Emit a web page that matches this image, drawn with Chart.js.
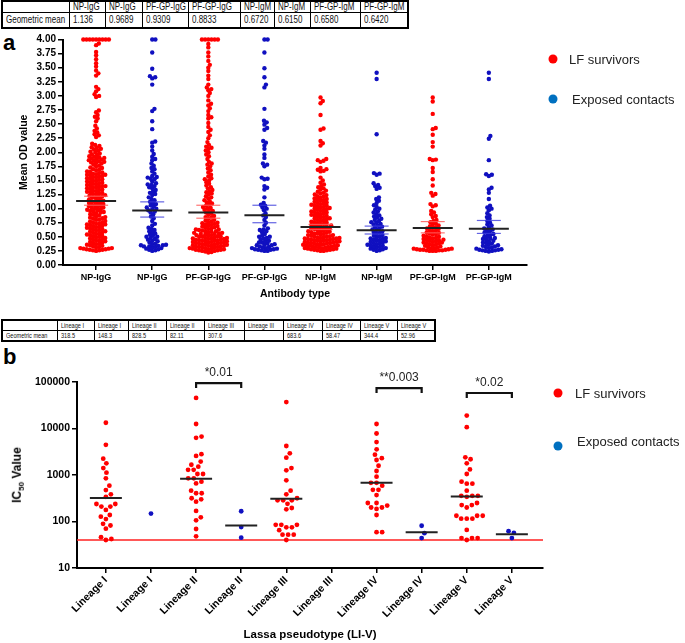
<!DOCTYPE html>
<html><head><meta charset="utf-8">
<script src="https://cdn.jsdelivr.net/npm/chart.js@4/dist/chart.umd.min.js"></script>
<style>
body{margin:0;width:685px;height:643px;position:relative;background:#fff;font-family:"Liberation Sans",Arial,sans-serif;overflow:hidden;color:#111}
.abs{position:absolute}
table.gm{border-collapse:collapse;position:absolute;border:2px solid #000;table-layout:fixed}
table.gm td{border:1px solid #000;padding:0 0 0 3px;white-space:nowrap;overflow:hidden;line-height:1}
table.gm td span{display:inline-block;transform:scaleX(0.8);transform-origin:0 50%}
.dot{position:absolute;border-radius:50%;width:9px;height:9px;transform:translate(-50%,-50%)}
.leg{position:absolute;transform:translateY(-50%);font-size:13px;color:#222;white-space:nowrap}
.letter{position:absolute;font-weight:bold;font-size:22px;color:#000}
canvas{position:absolute}
</style></head><body>
<table class="gm" id="tA" style="left:1px;top:0px;font-size:10px"></table>
<table class="gm" id="tB" style="left:1px;top:319px;font-size:7px"></table>
<div class="letter" style="left:3px;top:30px">a</div>
<div class="letter" style="left:3px;top:344px">b</div>
<div style="position:absolute;left:0;top:28px;width:685px;height:275px"><canvas id="cA"></canvas></div>
<div style="position:absolute;left:0;top:343px;width:685px;height:300px"><canvas id="cB"></canvas></div>
<div class="abs" style="left:18px;top:475px;transform:translate(-50%,-50%) rotate(-90deg);font-weight:bold;font-size:12px;white-space:nowrap;color:#000">IC<sub style="font-size:8px">50</sub> Value</div>
<div class="dot" style="left:553px;top:59px;background:#ff0000"></div>
<div class="leg" style="left:569px;top:59px">LF survivors</div>
<div class="dot" style="left:553px;top:99px;background:#0070c0"></div>
<div class="leg" style="left:572px;top:99px">Exposed contacts</div>
<div class="dot" style="left:558px;top:393px;background:#ff0000"></div>
<div class="leg" style="left:575px;top:393px">LF survivors</div>
<div class="dot" style="left:558px;top:446px;background:#0070c0"></div>
<div class="leg" style="left:577px;top:441px">Exposed contacts</div>
<script>
// ---------------- Panel a data ----------------
const catsA = ['NP-IgG','NP-IgG','PF-GP-IgG','PF-GP-IgG','NP-IgM','NP-IgM','PF-GP-IgM','PF-GP-IgM'];
const geoMeanA = [1.136, 0.9689, 0.9309, 0.8833, 0.6720, 0.6150, 0.6580, 0.6420];
const ciLowA  = [1.06, 0.85, 0.83, 0.75, 0.63, 0.55, 0.57, 0.56];
const ciHighA = [1.22, 1.12, 1.06, 1.06, 0.72, 0.69, 0.77, 0.79];
const ticksA = [0,0.25,0.5,0.75,1,1.25,1.5,1.75,2,2.25,2.5,2.75,3,3.25,3.5,3.75,4];
const npIgG_surv = [4,4,4,4,4,4,4,4,4,
3.93,3.90,3.78,3.72,3.65,3.58,3.52,3.45,3.40,3.36,
3.16,3.12,3.08,3.03,3.00,2.98,
2.74,2.71,2.66,2.63,2.60,2.55,
2.47,2.42,2.38,2.35,2.32,2.30,2.27,
2.15,2.13,2.11,2.09,2.08,2.06,2.05,2.03,2.01,2.00,
1.98,1.96,1.95,1.93,1.92,1.91,1.90,1.89,1.88,1.87,1.86,1.85,1.84,1.83,1.82,1.81,1.80,
1.78,1.76,1.75,1.73,1.72,1.70,1.69,1.68,1.66,1.65,1.64,1.63,1.62,1.61,1.60,1.60,1.59,
1.58,1.57,1.56,1.55,1.54,1.53,1.52,1.51,1.50,1.49,1.48,1.47,1.46,1.45,1.44,1.43,1.42,1.41,1.40,1.40,
1.39,1.38,1.37,1.36,1.35,1.34,1.33,1.32,1.31,1.30,1.29,1.28,1.27,1.26,1.25,1.24,1.23,1.22,1.21,1.20,
1.19,1.17,1.16,1.15,1.14,1.13,1.12,1.11,1.10,1.09,1.08,1.07,1.06,1.05,1.04,1.03,1.02,1.01,1.00,
0.99,0.98,0.97,0.96,0.95,0.94,0.93,0.92,0.90,0.89,0.88,0.86,0.85,0.84,0.83,0.82,0.81,0.80,
0.78,0.77,0.76,0.75,0.74,0.73,0.72,0.72,0.71,0.70,0.69,0.68,0.67,0.66,0.65,0.64,0.63,0.62,0.61,0.60,
0.59,0.58,0.57,0.56,0.55,0.54,0.53,0.52,0.51,0.50,0.49,0.48,0.47,0.46,0.45,0.44,0.43,0.42,0.41,0.40,
0.39,0.38,0.37,0.36,0.35,0.34,0.33,0.32,0.31,0.30,0.30,0.29,0.29,0.28,0.28,0.27,0.27,0.26,0.26,0.25];
const npIgG_cont = [4.00,4.00,3.77,3.48,3.35,3.33,3.31,3.20,2.77,2.73,2.55,2.41,2.19,2.17,2.10,2.03,1.97,1.92,1.88,1.86,
1.80,1.76,1.72,1.70,1.66,1.62,1.58,1.56,1.55,1.53,1.52,1.48,1.45,1.43,1.42,1.40,1.38,1.36,1.33,1.30,1.28,1.26,1.24,1.20,
1.17,1.15,1.12,1.10,1.08,1.06,1.04,1.02,1.00,0.99,0.97,0.95,0.93,0.90,0.86,0.83,0.78,0.73,0.70,0.66,0.64,0.62,0.60,0.58,
0.56,0.54,0.52,0.50,0.50,0.48,0.46,0.45,0.43,0.42,0.40,0.38,0.37,0.36,0.35,0.35,0.34,0.33,0.33,0.32,0.31,0.30,0.29,0.28,0.27,0.26,0.25];
const pfIgG_surv = [4,4,4,4,4,4,3.92,3.86,3.77,3.70,3.62,3.55,3.50,3.44,3.36,3.30,3.20,3.15,3.12,3.10,3.05,3.00,2.92,2.86,2.83,2.78,2.73,
2.66,2.62,2.60,2.52,2.45,2.40,2.36,2.30,2.25,2.18,2.13,2.10,2.08,2.06,2.03,2.00,1.96,1.93,1.88,1.83,1.80,1.78,1.75,1.71,1.68,1.64,
1.60,1.57,1.54,1.52,1.50,1.47,1.44,1.41,1.38,1.36,1.33,1.31,1.29,1.27,1.25,1.22,1.20,1.18,1.15,1.13,1.11,1.09,1.07,1.05,1.03,1.01,
1.00,0.98,0.96,0.95,0.93,0.91,0.89,0.87,0.85,0.84,0.82,0.80,0.79,0.77,0.76,0.75,0.74,0.73,0.72,0.71,0.70,0.69,0.68,0.67,0.66,0.65,
0.64,0.63,0.63,0.62,0.61,0.60,0.60,0.59,0.58,0.57,0.57,0.56,0.55,0.55,0.54,0.53,0.53,0.52,0.51,0.51,0.50,0.50,0.49,0.48,0.48,0.47,
0.47,0.46,0.46,0.45,0.45,0.44,0.44,0.43,0.43,0.42,0.42,0.41,0.41,0.40,0.40,0.39,0.39,0.38,0.38,0.37,0.37,0.36,0.36,0.35,0.35,0.34,
0.34,0.33,0.33,0.32,0.32,0.31,0.31,0.30,0.30,0.29,0.29,0.28,0.28,0.27,0.27,0.26,0.26,0.25,0.25,0.24,0.23,0.22];
const pfIgG_cont = [4.00,4.00,3.77,3.49,3.33,3.20,3.15,2.77,2.56,2.53,2.49,2.43,2.40,2.20,2.17,2.12,2.06,1.96,1.90,1.80,1.78,1.75,
1.55,1.53,1.52,1.40,1.37,1.34,1.20,1.10,1.07,1.05,1.02,1.00,0.97,0.92,0.88,0.85,0.80,0.75,0.70,0.65,0.63,0.62,0.60,0.58,0.55,0.52,
0.50,0.50,0.48,0.47,0.45,0.43,0.42,0.40,0.40,0.38,0.37,0.36,0.35,0.35,0.33,0.32,0.31,0.30,0.30,0.29,0.28,0.28,0.27,0.27,0.26,0.25,0.25];
const npIgM_surv = [2.97,2.91,2.87,2.66,2.42,2.40,2.20,2.16,2.12,1.88,1.86,1.85,1.83,1.72,1.70,1.69,1.67,1.66,1.55,1.50,1.46,1.43,1.40,
1.38,1.36,1.34,1.32,1.30,1.28,1.27,1.25,1.24,1.22,1.21,1.20,1.18,1.17,1.16,1.15,1.14,1.12,1.11,1.10,1.09,1.08,1.07,1.06,1.05,1.04,
1.03,1.02,1.01,1.00,0.99,0.98,0.97,0.96,0.95,0.94,0.93,0.92,0.91,0.90,0.89,0.88,0.87,0.86,0.85,0.84,0.83,0.82,
0.81,0.80,0.79,0.78,0.77,0.76,0.75,0.74,0.73,0.72,0.71,0.70,0.70,0.69,0.68,0.67,0.66,0.65,0.65,
0.64,0.63,0.62,0.61,0.60,0.60,0.59,0.58,0.57,0.56,0.56,0.55,0.54,0.53,0.53,0.52,0.51,
0.50,0.50,0.49,0.49,0.48,0.48,0.47,0.47,0.46,0.46,0.45,0.45,0.44,0.44,0.43,0.43,
0.42,0.42,0.41,0.41,0.40,0.40,0.39,0.39,0.38,0.38,0.37,0.37,0.36,0.36,0.35,0.35,
0.34,0.34,0.33,0.33,0.32,0.32,0.31,0.31,0.30,0.30,0.29,0.29,0.28,0.28,0.27,0.27,0.26,0.26,0.25,0.25];
const npIgM_cont = [3.41,3.30,2.32,1.63,1.62,1.60,1.45,1.42,1.40,1.37,1.35,1.20,1.17,1.14,1.10,1.06,1.03,1.00,0.98,0.95,0.93,0.90,
0.88,0.86,0.84,0.82,0.80,0.78,0.76,0.75,0.73,0.72,0.70,0.68,0.67,0.65,0.63,0.62,0.60,0.58,0.57,0.55,0.53,0.52,0.50,0.49,0.48,0.47,
0.46,0.45,0.44,0.43,0.42,0.41,0.40,0.39,0.38,0.37,0.36,0.35,0.34,0.33,0.32,0.31,0.30,0.29,0.28,0.27,0.26,0.25];
const pfIgM_surv = [2.97,2.90,2.68,2.43,2.41,2.31,2.18,2.10,1.88,1.87,1.86,1.72,1.65,1.52,1.41,1.28,1.26,1.23,1.08,1.06,1.04,0.96,
0.93,0.90,0.87,0.85,0.80,0.78,0.76,0.74,0.72,0.70,0.69,0.67,0.66,0.65,0.64,0.62,0.61,0.60,0.58,0.57,0.56,0.55,0.54,0.52,0.51,0.50,
0.49,0.48,0.47,0.46,0.45,0.45,0.44,0.43,0.42,0.41,0.40,0.40,0.39,0.38,0.37,0.36,0.35,0.34,0.33,0.32,0.31,0.30,0.30,0.29,0.29,0.28,
0.28,0.27,0.27,0.27,0.26,0.26,0.26,0.25,0.25,0.25];
const pfIgM_cont = [3.41,3.30,2.29,2.24,1.86,1.61,1.60,1.58,1.37,1.34,1.28,1.17,1.05,1.02,1.00,0.97,0.92,0.88,0.85,0.82,0.78,0.75,
0.72,0.70,0.67,0.65,0.63,0.62,0.60,0.58,0.56,0.55,0.53,0.51,0.50,0.48,0.47,0.46,0.45,0.43,0.42,0.40,0.39,0.38,0.36,0.35,0.34,0.33,
0.32,0.31,0.30,0.29,0.28,0.27,0.27,0.26,0.26,0.25,0.25,0.24];
const groupsA = [npIgG_surv, npIgG_cont, pfIgG_surv, pfIgG_cont, npIgM_surv, npIgM_cont, pfIgM_surv, pfIgM_cont];

// ---------------- Panel b data ----------------
const catsB = ['Lineage I','Lineage I','Lineage II','Lineage II','Lineage III','Lineage III','Lineage IV','Lineage IV','Lineage V','Lineage V'];
const geoMeanB = [318.5, 148.3, 828.5, 82.11, 307.6, null, 683.6, 58.47, 344.4, 52.96];
const ticksB = [10, 100, 1000, 10000, 100000];
const cutoffB = 40;
const LI_surv = [13300,4450,2240,1780,1410,1120,850,590,475,385,340,238,238,209,209,177,138,127,113,89,82,70,46,42,40];
const LI_cont = [148.3];
const LII_surv = [45500,12500,6700,6300,2800,2570,1940,1660,1510,1290,1290,1050,1050,850,850,720,660,460,405,405,316,300,267,169,123,106,69,48];
const LII_cont = [166,76,45];
const LIII_surv = [37000,4200,2930,2360,1410,1260,770,460,385,316,286,286,286,240,195,183,85,85,85,75,75,65,52,52,52,40];
const LIII_cont = [];
const LIV_surv = [12500,7800,5100,3570,2740,2300,2100,1580,1220,920,680,680,590,480,480,370,250,250,220,200,200,186,138,59,59];
const LIV_cont = [81,56,44];
const LV_surv = [19000,10700,2400,2180,1780,1320,1050,720,650,650,460,357,357,357,340,250,225,225,200,133,133,133,115,115,115,66,44,44,44,40];
const LV_cont = [62,57,44];
const groupsB = [LI_surv, LI_cont, LII_surv, LII_cont, LIII_surv, LIII_cont, LIV_surv, LIV_cont, LV_surv, LV_cont];
const bracketPairs = [[2,3],[6,7],[8,9]];
const bracketLabels = ['*0.01','**0.003','*0.02'];
const bracketLevels = [95000, 74000, 58000];

const RED = '#ff0000', BLUE = '#1010c0';

// ---------------- tables ----------------
function buildTable(id, cats, means, widths, rowH) {
  const t = document.getElementById(id);
  const cg = '<colgroup>' + widths.map(w => `<col style="width:${w}px">`).join('') + '</colgroup>';
  const r1 = `<tr style="height:${rowH[0]}px"><td></td>` + cats.map(c => `<td><span>${c}</span></td>`).join('') + '</tr>';
  const r2 = `<tr style="height:${rowH[1]}px"><td><span>Geometric mean</span></td>` + means.map(m => `<td><span>${m == null ? '' : m.toPrecision(4)}</span></td>`).join('') + '</tr>';
  t.innerHTML = cg + r1 + r2;
  t.style.width = widths.reduce((a, b) => a + b, 0) + 'px';
}
buildTable('tA', catsA, geoMeanA, [67,36,37,46,52,34,36,50,48], [11,15]);
buildTable('tB', catsB, geoMeanB, [55,37,34,38,38,40,39,39,38,37,38], [10,11]);

// ---------------- helpers ----------------
function swarm(chart, groups, D) {
  const xs = chart.scales.x, ys = chart.scales.y;
  const ppu = (xs.right - xs.left) / (xs.max - xs.min);
  chart.data.datasets.forEach(ds => ds.data = []);
  groups.forEach((vals, i) => {
    const placed = [];
    vals.slice().sort((a, b) => a - b).forEach(v => {
      const py = ys.getPixelForValue(v);
      const ivs = [];
      placed.forEach(p => {
        const dy = Math.abs(p.py - py);
        if (dy < D) { const w = Math.sqrt(D * D - dy * dy); ivs.push([p.px - w, p.px + w]); }
      });
      const cands = [0];
      ivs.forEach(iv => cands.push(iv[0], iv[1]));
      cands.sort((a, b) => (Math.abs(a) - Math.abs(b)) || (b - a));
      let px = 0;
      for (const c of cands) {
        if (ivs.every(iv => c <= iv[0] + 1e-6 || c >= iv[1] - 1e-6)) { px = c; break; }
      }
      placed.push({ px, py });
      chart.data.datasets[i % 2].data.push({ x: i + px / ppu, y: v });
    });
  });
  chart.update('none');
}

function meanPlugin(means, groups, halfW, ciLow, ciHigh) {
  return {
    id: 'means',
    afterDatasetsDraw(chart) {
      const ctx = chart.ctx, xs = chart.scales.x, ys = chart.scales.y;
      ctx.save();
      if (ciLow) {
        ctx.lineWidth = 1.2;
        means.forEach((m, i) => {
          const x = xs.getPixelForValue(i);
          ctx.strokeStyle = i % 2 ? 'rgba(60,60,220,0.8)' : 'rgba(255,90,90,0.85)';
          [ciLow[i], ciHigh[i]].forEach(v => {
            const y = ys.getPixelForValue(v);
            ctx.beginPath(); ctx.moveTo(x - 12, y); ctx.lineTo(x + 12, y); ctx.stroke();
          });
        });
      }
      ctx.strokeStyle = '#222'; ctx.lineWidth = 2;
      means.forEach((m, i) => {
        if (m == null || groups[i].length < 2) return;
        const x = xs.getPixelForValue(i), y = ys.getPixelForValue(m);
        ctx.beginPath(); ctx.moveTo(x - halfW, y); ctx.lineTo(x + halfW, y); ctx.stroke();
      });
      ctx.restore();
    }
  };
}

const axisCommon = {
  grid: { display: true, drawOnChartArea: false, drawTicks: true, tickLength: 5, color: '#000', lineWidth: 1.5 },
  border: { display: true, color: '#000', width: 2 },
};
const FONT = '"Liberation Sans", Arial, sans-serif';

// ---------------- chart a ----------------
const chartA = new Chart(document.getElementById('cA'), {
  type: 'scatter',
  data: { datasets: [
    { data: [], backgroundColor: RED, borderWidth: 0, pointRadius: 2.2, clip: false },
    { data: [], backgroundColor: BLUE, borderWidth: 0, pointRadius: 2.2, clip: false }
  ] },
  options: {
    responsive: true, maintainAspectRatio: false, animation: false,
    layout: { padding: { top: 11.5, right: 158, left: 0, bottom: 0 } },
    plugins: { legend: { display: false }, tooltip: { enabled: false } },
    scales: {
      x: { type: 'linear', min: -0.59, max: 7.68, ...axisCommon,
        afterBuildTicks: s => { s.ticks = catsA.map((_, i) => ({ value: i })); },
        afterFit: s => { s.height = 38; },
        ticks: { autoSkip: false, maxRotation: 0, minRotation: 0, padding: 2, color: '#000',
          font: { family: FONT, weight: 'bold', size: 9 }, callback: v => catsA[v] },
        title: { display: true, text: 'Antibody type', color: '#000', padding: { top: 0, bottom: 3 },
          font: { family: FONT, weight: 'bold', size: 10.5 } } },
      y: { type: 'linear', min: 0, max: 4, ...axisCommon,
        afterBuildTicks: s => { s.ticks = ticksA.map(v => ({ value: v })); },
        afterFit: s => { s.width = 63; },
        ticks: { autoSkip: false, padding: 2, color: '#000', font: { family: FONT, weight: 'bold', size: 10 }, callback: v => Number(v).toFixed(2) },
        title: { display: true, text: 'Mean OD value', color: '#000', padding: { top: 18, bottom: 0 },
          font: { family: FONT, weight: 'bold', size: 10.5 } } }
    }
  },
  plugins: [meanPlugin(geoMeanA, groupsA, 20, ciLowA, ciHighA)]
});
swarm(chartA, groupsA, 3.2);

// ---------------- chart b ----------------
const extrasB = {
  id: 'extrasB',
  beforeDatasetsDraw(chart) {
    const ctx = chart.ctx, ys = chart.scales.y, ca = chart.chartArea;
    const y = ys.getPixelForValue(cutoffB);
    ctx.save(); ctx.strokeStyle = '#ff2020'; ctx.lineWidth = 1.5;
    ctx.beginPath(); ctx.moveTo(ca.left, y); ctx.lineTo(ca.right, y); ctx.stroke(); ctx.restore();
  },
  afterDatasetsDraw(chart) {
    const ctx = chart.ctx, xs = chart.scales.x, ys = chart.scales.y;
    ctx.save();
    ctx.strokeStyle = '#111'; ctx.lineWidth = 2.2; ctx.fillStyle = '#222';
    ctx.font = '12px ' + FONT; ctx.textAlign = 'center'; ctx.textBaseline = 'middle';
    bracketPairs.forEach((p, k) => {
      const x1 = xs.getPixelForValue(p[0]), x2 = xs.getPixelForValue(p[1]);
      const y = ys.getPixelForValue(bracketLevels[k]);
      ctx.beginPath(); ctx.moveTo(x1, y + 5); ctx.lineTo(x1, y); ctx.lineTo(x2, y); ctx.lineTo(x2, y + 5); ctx.stroke();
      ctx.fillText(bracketLabels[k], (x1 + x2) / 2, y - 10);
    });
    ctx.restore();
  }
};
const chartB = new Chart(document.getElementById('cB'), {
  type: 'scatter',
  data: { datasets: [
    { data: [], backgroundColor: RED, borderWidth: 0, pointRadius: 2.4, clip: false },
    { data: [], backgroundColor: BLUE, borderWidth: 0, pointRadius: 2.4, clip: false }
  ] },
  options: {
    responsive: true, maintainAspectRatio: false, animation: false,
    layout: { padding: { top: 39, right: 142, left: 0, bottom: 0 } },
    plugins: { legend: { display: false }, tooltip: { enabled: false } },
    scales: {
      x: { type: 'linear', min: -0.64, max: 9.69, ...axisCommon,
        afterBuildTicks: s => { s.ticks = catsB.map((_, i) => ({ value: i })); },
        afterFit: s => { s.height = 75; },
        ticks: { autoSkip: false, maxRotation: 45, minRotation: 45, padding: 1, color: '#000',
          font: { family: FONT, weight: 'bold', size: 10.5 }, callback: v => catsB[v] },
        title: { display: true, text: 'Lassa pseudotype (LI-V)', color: '#000', padding: { top: 0, bottom: 1 },
          font: { family: FONT, weight: 'bold', size: 11.5 } } },
      y: { type: 'logarithmic', min: 10, max: 100000, ...axisCommon,
        afterBuildTicks: s => { s.ticks = ticksB.map(v => ({ value: v })); },
        afterFit: s => { s.width = 77; },
        ticks: { autoSkip: false, padding: 2, color: '#000', font: { family: FONT, weight: 'bold', size: 10.5 }, callback: v => String(v) } }
    }
  },
  plugins: [extrasB, meanPlugin(geoMeanB, groupsB, 16)]
});
swarm(chartB, groupsB, 5.6);
</script>
</body></html>
